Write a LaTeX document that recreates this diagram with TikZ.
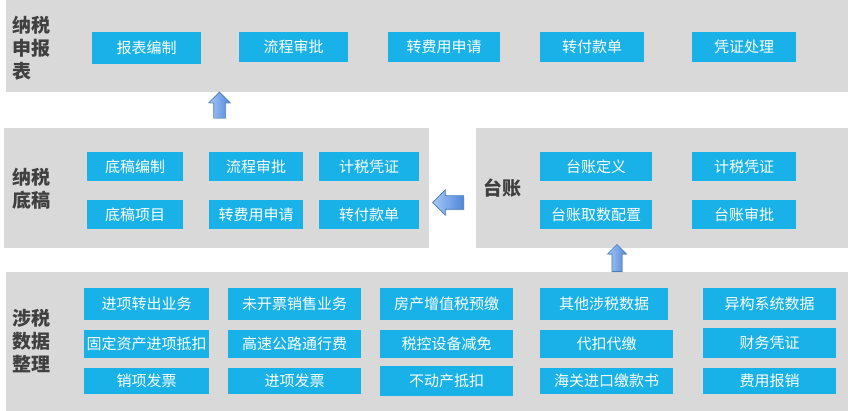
\documentclass[tikz,border=0pt]{standalone}
\usepackage{fontspec}
\setmainfont{Noto Sans CJK SC}
\usetikzlibrary{shapes.arrows,shadows}
\definecolor{panelgrey}{HTML}{D9D9D9}
\definecolor{tilecyan}{HTML}{18B2E8}
\definecolor{labelgrey}{HTML}{404040}
\definecolor{arrowlight}{HTML}{A7C8F5}
\definecolor{arrowdark}{HTML}{4F87D9}
\definecolor{arrowline}{HTML}{4A7EBB}

\begin{document}
\begin{tikzpicture}[x=1pt, y=-1pt,
    tile/.style={fill=tilecyan, text=white, inner sep=0pt, font=\fontsize{15}{18}\selectfont},
    group/.style={anchor=west, align=left, text=labelgrey, inner sep=0pt, font=\fontsize{19}{23}\selectfont\bfseries},
    flow/.style={single arrow, draw=arrowline, line width=0.6pt, left color=arrowlight, right color=arrowdark,
      inner xsep=0pt, single arrow head indent=0pt, drop shadow={opacity=0.25, shadow xshift=1pt, shadow yshift=-1pt}}]
  \useasboundingbox (0,0) rectangle (848,411);
  % grey panels
  \foreach \a/\b/\c/\d in {6/0/848/92, 4/128/429/248, 476/128/848/248, 6/272/848/411}
    \fill[panelgrey] (\a,\b) rectangle (\c,\d);
  % group labels
  \node[group] (repl) at (12,48) {纳税\\申报\\表};
  \node[group] (draftl) at (12,189) {纳税\\底稿};
  \node[group] (ledgerl) at (483,188) {台账};
  \node[group] (datal) at (12,341) {涉税\\数据\\整理};
  % tiles: name/x/y/width/height/text
  \foreach \n/\x/\y/\w/\h/\t in {rep1/146.5/48/109/32/报表编制, rep2/293.5/47/109/30/流程审批, rep3/444/47/112/30/转费用申请,
      rep4/592/47/104/30/转付款单, rep5/744/47/104/30/凭证处理,
      d1/135/166.5/96/29/底稿编制, d2/256/166.5/94/29/流程审批, d3/369/166.5/100/29/计税凭证,
      d4/135/214.5/96/29/底稿项目, d5/256/214.5/94/29/转费用申请, d6/369/214.5/100/29/转付款单,
      l1/596/166.5/112/29/台账定义, l2/744/166.5/104/29/计税凭证,
      l3/596/214.5/112/29/台账取数配置, l4/744/214.5/104/29/台账审批}
    \node[tile, minimum width=\w pt, minimum height=\h pt] (\n) at (\x,\y) {\t};
  \foreach \n/\x/\y/\w/\h/\t in {s1/146.5/304/125/32/进项转出业务, s2/294.5/304/133/32/未开票销售业务, s3/446.5/304/133/32/房产增值税预缴,
      s4/604/304/128/32/其他涉税数据, s5/769.5/304/133/32/异构系统数据,
      s6/146.5/344/125/28/固定资产进项抵扣, s7/294.5/344/133/28/高速公路通行费, s8/446.5/344/133/28/税控设备减免,
      s9/606.5/344/133/28/代扣代缴, s10/769.5/343/133/30/财务凭证,
      s11/146.5/381/125/26/销项发票, s12/294.5/381/133/26/进项发票, s13/446.5/381/133/30/不动产抵扣,
      s14/606.5/381/133/26/海关进口缴款书, s15/769.5/381/133/26/费用报销}
    \node[tile, minimum width=\w pt, minimum height=\h pt] (\n) at (\x,\y) {\t};
  % block arrows
  \node[flow, rotate=90, minimum height=26pt, inner ysep=5.5pt, single arrow head extend=5pt] (up1) at (219.5,108) {};
  \node[flow, rotate=180, minimum height=31pt, inner ysep=6.5pt, single arrow head extend=6pt] (left1) at (451.5,202.5) {};
  \node[flow, rotate=90, minimum height=27pt, inner ysep=4.75pt, single arrow head extend=4.5pt] (up2) at (617,260.5) {};
\end{tikzpicture}
\end{document}
